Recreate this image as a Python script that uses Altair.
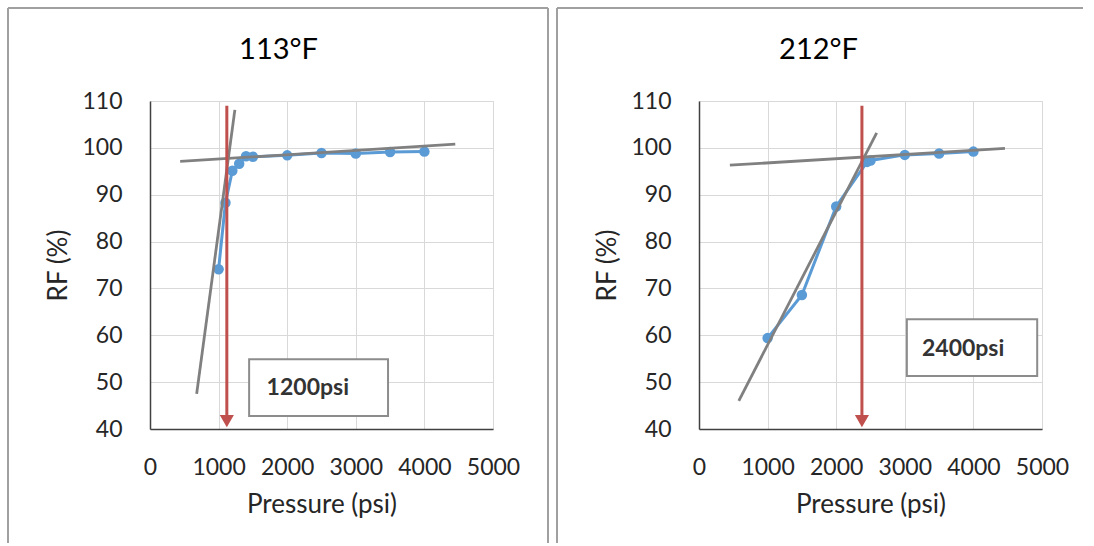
import altair as alt
import pandas as pd

# ---- data ----
titles = ["113°F", "212°F"]

left_p = [1000, 1100, 1200, 1300, 1400, 1500, 2000, 2500, 3000, 3500, 4000]
left_rf = [74.1, 88.3, 95.1, 96.6, 98.2, 98.1, 98.4, 98.9, 98.8, 99.1, 99.2]

right_p = [1000, 1500, 2000, 2450, 2500, 3000, 3500, 4000]
right_rf = [59.4, 68.6, 87.5, 97.0, 97.3, 98.5, 98.8, 99.2]

left_flat_p = [440, 4450]
left_flat_rf = [97.1, 100.8]
left_steep_p = [680, 1237]
left_steep_rf = [47.5, 108.1]

right_flat_p = [450, 4460]
right_flat_rf = [96.3, 99.9]
right_steep_p = [580, 2590]
right_steep_rf = [46.0, 103.2]

left_arrow_p = 1120
right_arrow_p = 2375
arrow_top = 109
arrow_head = 41.7

left_box = [1445, 3470, 42.8, 54.9]
right_box = [3030, 4930, 51.3, 63.4]
left_label = ["1200psi", 1700, 48.8]
right_label = ["2400psi", 3250, 57.1]

x_ticks = [0, 1000, 2000, 3000, 4000, 5000]
y_ticks = [40, 50, 60, 70, 80, 90, 100, 110]

FONT = "Lato"
W, H = 343, 328
BLUE = "#5B9BD5"
GRAY = "#808080"
RED = "#C0504D"
FRAME = "#a0a0a0"

xs = alt.Scale(domain=[0, 5000], nice=False, zero=False)
ys = alt.Scale(domain=[40, 110], nice=False, zero=False)


def panel(title, title_x, p, rf, fp, frf, sp, srf, ap, box, label, right_frame):
    one = pd.DataFrame({"a": [0]})
    xax = alt.Axis(values=x_ticks, format="d", title="Pressure (psi)", grid=True, gridColor="#d9d9d9",
                   domainColor="#404040", domainWidth=1.5, ticks=False, tickSize=0,
                   labelFont=FONT, labelFontSize=23, labelColor="#262626", labelPadding=27,
                   titleFont=FONT, titleFontSize=26, titleFontWeight="normal",
                   titleColor="#262626", titlePadding=12, labelFlush=False)
    yax = alt.Axis(values=y_ticks, format="d", title="RF (%)", grid=True, gridColor="#d9d9d9",
                   domainColor="#404040", domainWidth=1.5, ticks=False, tickSize=0,
                   labelFont=FONT, labelFontSize=23, labelColor="#262626", labelPadding=28,
                   titleFont=FONT, titleFontSize=26, titleFontWeight="normal",
                   titleColor="#262626", titlePadding=10, labelFlush=False)

    base_df = pd.DataFrame({"p": p, "rf": rf})
    series_line = alt.Chart(base_df).mark_line(color=BLUE, strokeWidth=3).encode(
        x=alt.X("p:Q", scale=xs, axis=xax), y=alt.Y("rf:Q", scale=ys, axis=yax))
    series_pts = alt.Chart(base_df).mark_point(filled=True, color=BLUE, size=110, opacity=1).encode(
        x=alt.X("p:Q", scale=xs), y=alt.Y("rf:Q", scale=ys))

    tr_df = pd.DataFrame({"p": fp + sp, "rf": frf + srf, "seg": ["f", "f", "s", "s"]})
    trend = alt.Chart(tr_df).mark_line(color=GRAY, strokeWidth=2.8).encode(
        x=alt.X("p:Q", scale=xs), y=alt.Y("rf:Q", scale=ys), detail="seg:N")

    box_df = pd.DataFrame({"x1": [box[0]], "x2": [box[1]], "y1": [box[2]], "y2": [box[3]]})
    boxm = alt.Chart(box_df).mark_rect(fill="white", stroke="#8c8c8c", strokeWidth=2).encode(
        x=alt.X("x1:Q", scale=xs), x2="x2:Q", y=alt.Y("y1:Q", scale=ys), y2="y2:Q")

    txt_df = pd.DataFrame({"t": [label[0]], "p": [label[1]], "rf": [label[2]]})
    txt = alt.Chart(txt_df).mark_text(font=FONT, fontSize=23, fontWeight="bold", color="#333333",
                                      align="left", baseline="middle").encode(
        x=alt.X("p:Q", scale=xs), y=alt.Y("rf:Q", scale=ys), text="t:N")

    ar_df = pd.DataFrame({"p": [ap], "top": [arrow_top], "head": [arrow_head]})
    arrow = alt.Chart(ar_df).mark_rule(color=RED, strokeWidth=3).encode(
        x=alt.X("p:Q", scale=xs), y=alt.Y("top:Q", scale=ys), y2="head:Q")
    head = alt.Chart(ar_df).mark_point(shape="triangle-down", filled=True, color=RED, size=200,
                                       opacity=1).encode(
        x=alt.X("p:Q", scale=xs), y=alt.Y("head:Q", scale=ys))

    title_df = pd.DataFrame({"t": [title]})
    ttl = alt.Chart(title_df).mark_text(font=FONT, fontSize=29, color="#000000",
                                        align="center", baseline="alphabetic").encode(
        x=alt.value(title_x), y=alt.value(-42), text="t:N")

    frames = [
        alt.Chart(one).mark_rule(color=FRAME, strokeWidth=2).encode(
            x=alt.value(-142), x2=alt.value(398 if right_frame else 384), y=alt.value(-93)),
        alt.Chart(one).mark_rule(color=FRAME, strokeWidth=2).encode(
            x=alt.value(-142), y=alt.value(-93), y2=alt.value(442)),
    ]
    if right_frame:
        frames.append(alt.Chart(one).mark_rule(color=FRAME, strokeWidth=2).encode(
            x=alt.value(398), y=alt.value(-93), y2=alt.value(442)))

    layers = frames + [boxm, series_line, series_pts, trend, arrow, head, txt, ttl]
    return alt.layer(*layers).properties(width=W, height=H)


left = panel(titles[0], 128.5, left_p, left_rf, left_flat_p, left_flat_rf, left_steep_p,
             left_steep_rf, left_arrow_p, left_box, left_label, True)
right = panel(titles[1], 119.5, right_p, right_rf, right_flat_p, right_flat_rf, right_steep_p,
              right_steep_rf, right_arrow_p, right_box, right_label, False)

chart = alt.hconcat(left, right, spacing=5).properties(
    padding={"left": 6, "top": 6, "right": 0, "bottom": 0}
).configure_view(stroke=None).configure(background="white")

chart.save("out.html", embed_options={"renderer": "svg", "actions": False})
